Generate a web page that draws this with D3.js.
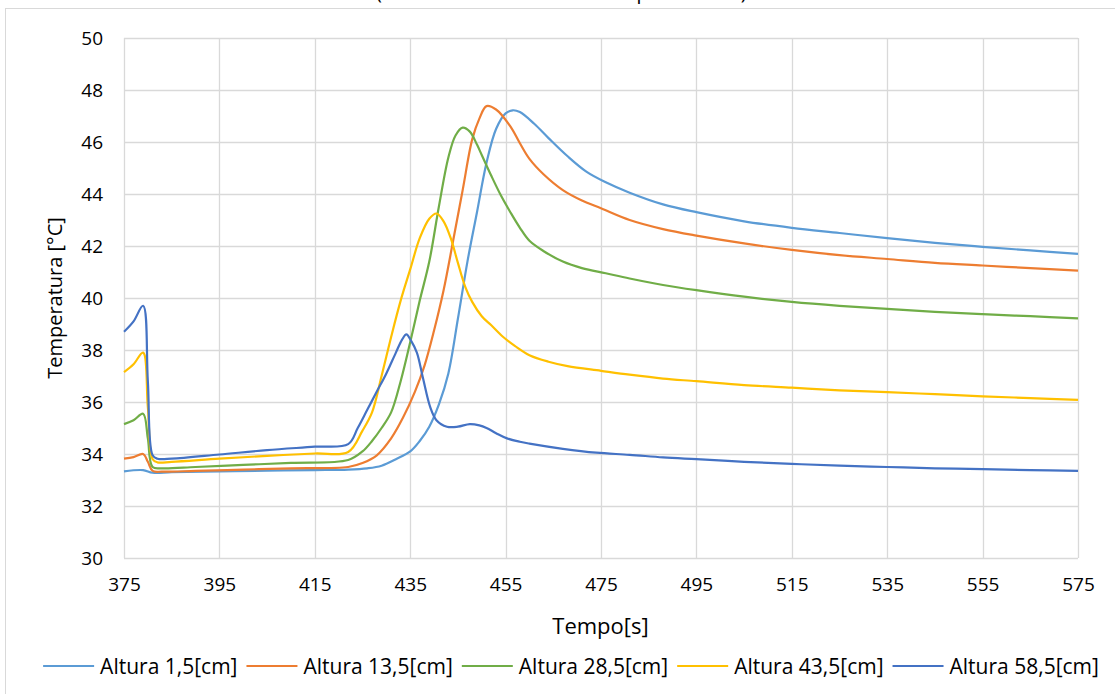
<!DOCTYPE html>
<html><head><meta charset="utf-8">
<script src="https://cdn.jsdelivr.net/npm/d3@7"></script>
<style>
html,body{margin:0;padding:0;background:#fff;}
svg{display:block;font-family:"Open Sans",sans-serif;}
</style></head>
<body><svg id="c" width="1115" height="694"></svg>
<script>
// ---- data ----
const seriesNames = ["Altura 1,5[cm]","Altura 13,5[cm]","Altura 28,5[cm]","Altura 43,5[cm]","Altura 58,5[cm]"];
const xTicks = [375,395,415,435,455,475,495,515,535,555,575];
const yTicks = [30,32,34,36,38,40,42,44,46,48,50];

const t1 = [375,379,381,385,395,405,415,422,426,429,432,435,437,439,441,443,445,447,449,451,453,455,456.5,458,461,464,468,472,476,481,488,495,505,515,525,535,545,555,565,575];
const v1 = [33.33,33.38,33.28,33.3,33.33,33.36,33.38,33.4,33.45,33.55,33.8,34.1,34.5,35.05,35.9,37.1,39.2,41.4,43.3,45.2,46.5,47.1,47.22,47.15,46.7,46.15,45.45,44.85,44.45,44.05,43.6,43.3,42.95,42.7,42.5,42.3,42.12,41.97,41.83,41.7];

const t2 = [375,377,379,380,381,383,390,400,410,422,425,428,431,433.5,436,438,440,442,444,446,448,449.5,451,453,456,458,460,463,467,471,475,481,488,495,505,515,525,535,545,555,565,575];
const v2 = [33.82,33.88,34.0,33.7,33.35,33.32,33.35,33.4,33.45,33.5,33.65,33.95,34.6,35.4,36.4,37.4,38.75,40.3,42.2,44.15,46.1,46.9,47.38,47.25,46.6,45.95,45.35,44.75,44.15,43.75,43.45,43.0,42.65,42.4,42.1,41.85,41.65,41.5,41.35,41.25,41.15,41.05];

const t3 = [375,377,379,380,381,383,390,400,410,422,425,427,429,431,433,435,437,439,441,443,444.5,446,447.5,449,450,452,454,456,458,460,463,467,471,476,481,488,495,505,515,525,535,545,555,565,575];
const v3 = [35.15,35.3,35.55,34.6,33.5,33.45,33.5,33.58,33.66,33.77,34.1,34.5,35.0,35.6,36.8,38.3,39.9,41.4,43.5,45.4,46.25,46.55,46.4,45.9,45.5,44.7,43.95,43.3,42.7,42.2,41.8,41.4,41.15,40.95,40.75,40.5,40.3,40.05,39.85,39.7,39.58,39.47,39.38,39.3,39.22];

const t4 = [375,377,379,380,381,382,385,395,405,415,422,425,427,429,431,433,435,437,439,440.5,442,443.5,445,446.5,448,450,452,454.5,457,460,464,468,475,481,488,495,505,515,525,535,545,555,565,575];
const v4 = [37.15,37.45,37.9,35.8,33.8,33.68,33.7,33.82,33.93,34.02,34.08,34.9,35.6,37.0,38.5,39.9,41.1,42.3,43.05,43.25,42.95,42.3,41.35,40.45,39.85,39.3,38.95,38.5,38.15,37.8,37.55,37.38,37.2,37.05,36.9,36.8,36.65,36.55,36.45,36.38,36.3,36.22,36.15,36.08];

const t5 = [375,377,379,380,381,382,385,395,405,415,422,424,426,428,430,432,433.3,434.2,435.2,436.4,437.7,439.2,440.5,442.7,445,447.5,449.5,451,453,455.3,458,460,467,474,481,488,495,505,515,525,535,545,555,565,575];
const v5 = [38.7,39.1,39.7,36.8,33.95,33.82,33.82,33.98,34.15,34.28,34.38,35.0,35.7,36.4,37.1,37.9,38.4,38.6,38.35,37.9,36.9,35.8,35.3,35.05,35.05,35.15,35.1,35.0,34.8,34.6,34.47,34.4,34.2,34.05,33.97,33.87,33.8,33.7,33.62,33.55,33.5,33.45,33.42,33.38,33.35];

const colors = ["#5B9BD5","#ED7D31","#70AD47","#FFC000","#4472C4"];
const series = [[t1,v1],[t2,v2],[t3,v3],[t4,v4],[t5,v5]];

// ---- layout ----
const svg = d3.select("#c");
const L = 124, R = 1078, T = 38, B = 558;
const x = d3.scaleLinear().domain([375,575]).range([L,R]);
const y = d3.scaleLinear().domain([30,50]).range([B,T]);

// outer frame
svg.append("rect").attr("x",5.5).attr("y",8.5).attr("width",1200).attr("height",800)
  .attr("fill","none").attr("stroke","#d9d9d9").attr("stroke-width",1);

// partially visible title (cut off at the top edge, as in the reference)
svg.append("text").attr("x",564).attr("y",-1).attr("text-anchor","middle")
  .attr("font-size",20).attr("fill","#000").text("(curva média do fluido de aquecimento).");

// grid
const g = svg.append("g");
g.selectAll("line.h").data(yTicks).join("line")
  .attr("x1",L).attr("x2",R).attr("y1",d=>Math.round(y(d))+0.5).attr("y2",d=>Math.round(y(d))+0.5)
  .attr("stroke","#d9d9d9").attr("stroke-width",1.3);
g.selectAll("line.v").data(xTicks).join("line")
  .attr("y1",T).attr("y2",B).attr("x1",d=>Math.round(x(d))+0.5).attr("x2",d=>Math.round(x(d))+0.5)
  .attr("stroke","#d9d9d9").attr("stroke-width",1.3);

// axes labels
const yAxis = d3.axisLeft(y).tickValues(yTicks).tickSize(0).tickPadding(21);
const ya = svg.append("g").attr("transform",`translate(${L},0)`).call(yAxis);
const xAxis = d3.axisBottom(x).tickValues(xTicks).tickSize(0).tickPadding(20);
const xa = svg.append("g").attr("transform",`translate(0,${B})`).call(xAxis);
[ya,xa].forEach(a=>{
  a.select(".domain").remove();
  a.selectAll("text").attr("font-size",19).attr("font-family","Open Sans").attr("fill","#000");
});

// series lines
const line = d3.line().curve(d3.curveCatmullRom.alpha(0.5)).x(d=>x(d[0])).y(d=>y(d[1]));
series.forEach((s,i)=>{
  const pts = s[0].map((t,k)=>[t,s[1][k]]);
  svg.append("path").datum(pts).attr("d",line).attr("fill","none")
    .attr("stroke",colors[i]).attr("stroke-width",2.2).attr("stroke-linejoin","round");
});

// axis titles
svg.append("text").attr("x",600.5).attr("y",634).attr("text-anchor","middle")
  .attr("font-size",22).attr("fill","#000").text("Tempo[s]");
svg.append("text").attr("transform","translate(62,298) rotate(-90)").attr("text-anchor","middle")
  .attr("font-size",20).attr("fill","#000").text("Temperatura [°C]");

// legend
const lg = svg.append("g");
let cx = 0;
seriesNames.forEach((n,i)=>{
  const it = lg.append("g");
  it.append("line").attr("x1",0).attr("x2",51).attr("y1",0).attr("y2",0)
    .attr("stroke",colors[i]).attr("stroke-width",2.2);
  const tx = it.append("text").attr("x",57).attr("y",7.5).attr("font-size",21).attr("fill","#000").text(n);
  const w = 57 + tx.node().getComputedTextLength();
  it.attr("transform",`translate(${cx},666)`);
  cx += w + 9;
});
const totalW = cx - 9;
lg.attr("transform",`translate(${571 - totalW/2},0)`);
</script></body></html>
